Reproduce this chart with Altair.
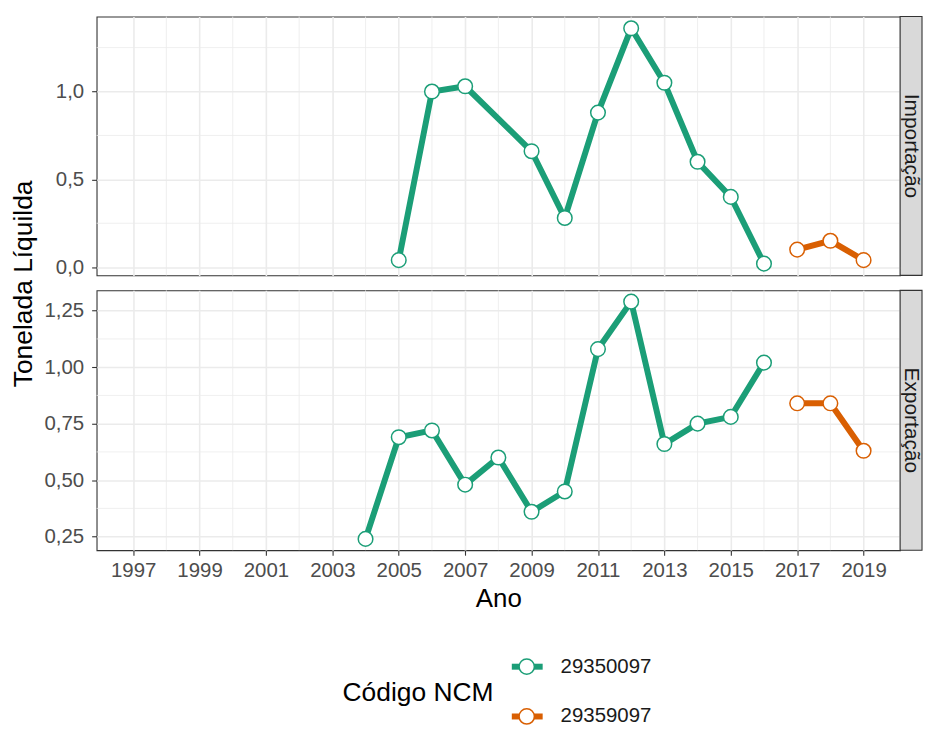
import altair as alt
import pandas as pd

# ---------------- data ----------------
codigos = ["29350097", "29359097"]
cores = ["#1B9E77", "#D95F02"]
fluxos = ["Importação", "Exportação"]

anos_imp_a = [2005, 2006, 2007, 2009, 2010, 2011, 2012, 2013, 2014, 2015, 2016]
imp_a = [0.04, 1.00, 1.03, 0.66, 0.28, 0.88, 1.36, 1.05, 0.60, 0.40, 0.02]
anos_imp_b = [2017, 2018, 2019]
imp_b = [0.10, 0.15, 0.04]

anos_exp_a = [2004, 2005, 2006, 2007, 2008, 2009, 2010, 2011, 2012, 2013, 2014, 2015, 2016]
exp_a = [0.24, 0.69, 0.72, 0.48, 0.60, 0.36, 0.45, 1.08, 1.29, 0.66, 0.75, 0.78, 1.02]
anos_exp_b = [2017, 2018, 2019]
exp_b = [0.84, 0.84, 0.63]

anos_rotulos = [1997, 1999, 2001, 2003, 2005, 2007, 2009, 2011, 2013, 2015, 2017, 2019]
anos_menores = [1998, 2000, 2002, 2004, 2006, 2008, 2010, 2012, 2014, 2016, 2018]

y_top_major = [0.0, 0.5, 1.0]
y_top_minor = [0.25, 0.75, 1.25]
y_bot_major = [0.25, 0.50, 0.75, 1.00, 1.25]
y_bot_minor = [0.375, 0.625, 0.875, 1.125]

rows = []
for fl, anos, vals, cod in [
    (fluxos[0], anos_imp_a, imp_a, codigos[0]),
    (fluxos[0], anos_imp_b, imp_b, codigos[1]),
    (fluxos[1], anos_exp_a, exp_a, codigos[0]),
    (fluxos[1], anos_exp_b, exp_b, codigos[1]),
]:
    for a, v in zip(anos, vals):
        rows.append({"fluxo": fl, "codigo": cod, "ano": a, "valor": v})
df = pd.DataFrame(rows)

# ---------------- style ----------------
FONT = "Liberation Sans"
PW, SW = 807, 22
GRID = "#EBEBEB"
BORDER = "#333333"

x_scale = alt.Scale(domain=[1995.9, 2020.1], nice=False, zero=False)
color_scale = alt.Scale(domain=codigos, range=cores)

common_axis = dict(
    grid=True, gridColor=GRID, gridWidth=1.6, domain=False,
    tickColor=BORDER, tickWidth=1.1, tickSize=5,
    labelFontSize=20.5, labelColor="#4D4D4D", labelFont=FONT,
    labelOverlap=False,
)


def panel(fluxo, y_domain, y_major, y_minor, fmt, bottom, PH):
    d = df[df.fluxo == fluxo]
    y_scale = alt.Scale(domain=y_domain, nice=False, zero=False)
    label_expr = f"replace(format(datum.value, '{fmt}'), '.', ',')"
    if bottom:
        x_axis = alt.Axis(values=anos_rotulos, format="d", title="Ano",
                          titleFontSize=26, titleFontWeight="normal",
                          titleColor="#000000", titlePadding=5, titleFont=FONT,
                          labelPadding=5, **common_axis)
        y_axis = alt.Axis(values=y_major, labelExpr=label_expr, title=None,
                          labelPadding=8, **common_axis)
    else:
        x_axis = alt.Axis(values=anos_rotulos, labels=False, ticks=False,
                          title=None, grid=True, gridColor=GRID, gridWidth=1.6,
                          domain=False)
        y_axis = alt.Axis(values=y_major, labelExpr=label_expr,
                          title="Tonelada Líquilda", titleFontSize=26.5,
                          titleFontWeight="normal", titleColor="#000000",
                          titleFont=FONT, titleX=-59, titleY=268,
                          labelPadding=8, **common_axis)

    minor_x = alt.Chart(pd.DataFrame({"ano": anos_menores})).mark_rule(
        color=GRID, strokeWidth=0.8
    ).encode(x=alt.X("ano:Q", scale=x_scale, axis=x_axis))
    minor_y = alt.Chart(pd.DataFrame({"valor": y_minor})).mark_rule(
        color=GRID, strokeWidth=0.8
    ).encode(y=alt.Y("valor:Q", scale=y_scale, axis=y_axis))
    line = alt.Chart(d).mark_line(strokeWidth=6).encode(
        x=alt.X("ano:Q", scale=x_scale, axis=x_axis),
        y=alt.Y("valor:Q", scale=y_scale, axis=y_axis),
        color=alt.Color("codigo:N", scale=color_scale, legend=None),
    )
    pts = alt.Chart(d).mark_point(
        filled=True, fill="white", size=215, strokeWidth=1.5, opacity=1
    ).encode(
        x=alt.X("ano:Q", scale=x_scale, axis=x_axis),
        y=alt.Y("valor:Q", scale=y_scale, axis=y_axis),
        stroke=alt.Stroke("codigo:N", scale=color_scale, legend=None),
    )
    strip_df = pd.DataFrame({"fluxo": [fluxo]})
    strip_rect = alt.Chart(strip_df).mark_rect(
        fill="#D9D9D9", stroke=BORDER, strokeWidth=1.1
    ).encode(x=alt.value(PW), x2=alt.value(PW + SW), y=alt.value(0), y2=alt.value(PH))
    strip_txt = alt.Chart(strip_df).mark_text(
        angle=90, fontSize=21, color="#1A1A1A", align="center", baseline="middle"
    ).encode(text="fluxo:N", x=alt.value(PW + SW / 2), y=alt.value(PH / 2))
    return alt.layer(minor_x, minor_y, line, pts, strip_rect, strip_txt).properties(
        width=PW, height=PH,
        view=alt.ViewBackground(fill="white", stroke=BORDER, strokeWidth=1.1),
    )


top = panel(fluxos[0], [-0.047, 1.427], y_top_major, y_top_minor, ".1f", False, 260)
bot = panel(fluxos[1], [0.19, 1.34], y_bot_major, y_bot_minor, ".2f", True, 261)

# ---------------- legend ----------------
leg_df = pd.DataFrame({"codigo": codigos})
leg_y = alt.Y("codigo:N", scale=alt.Scale(type="point", padding=0, domain=codigos,
                                          range=[102, 152]), axis=None)
leg_rule = alt.Chart(leg_df).mark_rule(strokeWidth=6).encode(
    x=alt.value(417), x2=alt.value(448), y=leg_y,
    color=alt.Color("codigo:N", scale=color_scale, legend=None),
)
leg_pts = alt.Chart(leg_df).mark_point(
    filled=True, fill="white", size=235, strokeWidth=1.5, opacity=1
).encode(
    x=alt.value(432), y=leg_y,
    stroke=alt.Stroke("codigo:N", scale=color_scale, legend=None),
)
leg_lab = alt.Chart(leg_df).mark_text(
    align="left", baseline="middle", fontSize=20.5, color="#1A1A1A"
).encode(x=alt.value(466), y=leg_y, text="codigo:N")
leg_tit = alt.Chart(pd.DataFrame({"t": ["Código NCM"]})).mark_text(
    align="left", baseline="middle", fontSize=26.5, color="#000000"
).encode(x=alt.value(247), y=alt.value(128), text="t:N")
legend = alt.layer(leg_rule, leg_pts, leg_lab, leg_tit).properties(
    width=PW, height=152,
    view=alt.ViewBackground(strokeOpacity=0, fillOpacity=0),
)

chart = alt.vconcat(top, bot, legend, spacing=15, bounds="flush").properties(
    padding={"left": 2, "top": 5, "right": 0, "bottom": 0},
    background="white",
).configure(font=FONT)

chart.save("out.html", embed_options={"renderer": "svg", "actions": False})
